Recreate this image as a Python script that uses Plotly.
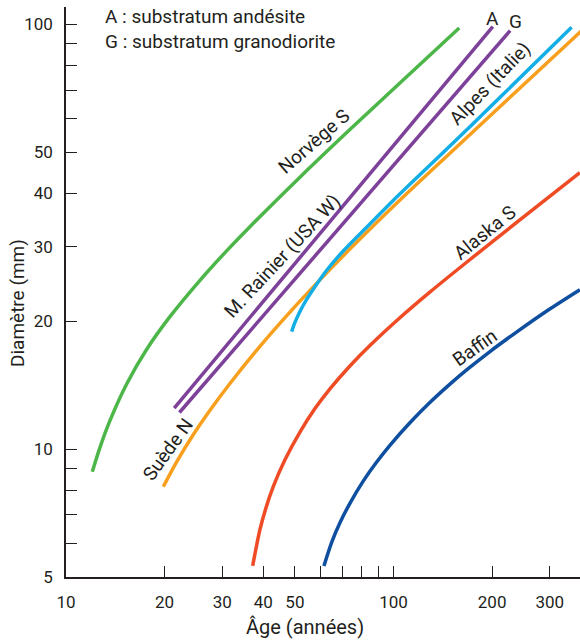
import numpy as np
import plotly.graph_objects as go

# ---- data (age in years, diameter in mm) ----
norvege_age = [12.03, 12.7, 13.62, 15.32, 17.64, 20.77, 25.65, 30.94, 36.45, 51.8, 73.6, 104.6, 158.7]
norvege_diam = [8.85, 10.1, 11.67, 14.24, 17.19, 20.51, 24.98, 29.31, 33.41, 43.7, 56.58, 72.83, 98.1]

rainierA_age = [21.4, 201]
rainierA_diam = [12.5, 98.8]

rainierG_age = [22.2, 227]
rainierG_diam = [12.2, 96.7]

suede_age = [19.82, 21.77, 24.24, 27.52, 31.67, 39.1, 48.29, 59.62, 74.5, 105.8, 148.7, 211.2, 349.8, 383.8]
suede_diam = [8.16, 9.335, 10.7, 12.35, 14.28, 17.47, 21.03, 25.04, 29.87, 38.92, 49.77, 64.04, 91.93, 98.33]

alpes_age = [48.86, 50.01, 51.8, 54.41, 57.56, 62.62, 70.23, 81.79, 99.79, 148.7, 211.2, 349.8]
alpes_diam = [18.91, 19.88, 21.1, 22.58, 24.13, 26.42, 29.29, 33.0, 38.52, 51.74, 67.31, 98.49]

alaska_age = [37.15, 39.1, 40.79, 42.93, 46.62, 51.8, 57.56, 63.96, 73.6, 84.72, 104.6, 129.1, 167.2, 243.1, 370.7]
alaska_diam = [5.31, 6.469, 7.274, 8.16, 9.441, 10.97, 12.46, 13.87, 15.7, 17.54, 20.39, 23.43, 27.55, 34.67, 44.82]

baffin_age = [61.31, 64.86, 68.62, 73.6, 80.82, 88.38, 97.5, 112.2, 129.1, 148.7, 167.2, 197.0, 237.5, 296.0, 370.7]
baffin_diam = [5.31, 6.06, 6.71, 7.457, 8.408, 9.275, 10.21, 11.54, 12.88, 14.23, 15.37, 16.98, 18.87, 21.24, 23.75]

x_tickvals = [10, 20, 30, 40, 50, 60, 70, 80, 90, 100, 200, 300]
x_ticktext = ["10", "20", "30", "40", "50", "", "", "", "", "100", "200", "300"]
y_tickvals = [5, 6, 7, 8, 9, 10, 20, 30, 40, 50, 60, 70, 80, 90, 100]
y_ticktext = ["5", "", "", "", "", "10", "20", "30", "40", "50", "", "", "", "", "100"]

# curve labels: text, age, diameter, angle
labels = [
    ("Norvège S", 57.2, 52.9, -41),
    ("M. Rainier (USA W)", 45.5, 28.5, -47),
    ("Suède N", 20.5, 9.96, -54),
    ("Alpes (Italie)", 197, 72.5, -46),
    ("Alaska S", 190, 32.4, -39),
    ("Baffin", 177, 17.4, -35),
    ("A", 200, 103.4, 0),
    ("G", 235, 101.5, 0),
]

FONT = "Roboto, Liberation Sans, sans-serif"
TXT = "#231f20"

fig = go.Figure()
series = [
    (norvege_age, norvege_diam, "#4cb748"),
    (suede_age, suede_diam, "#f8a01e"),
    (alpes_age, alpes_diam, "#14aee6"),
    (rainierA_age, rainierA_diam, "#7d4199"),
    (rainierG_age, rainierG_diam, "#7d4199"),
    (alaska_age, alaska_diam, "#ef4b24"),
    (baffin_age, baffin_diam, "#0f4fa0"),
]
for xs, ys, c in series:
    fig.add_trace(go.Scatter(x=xs, y=ys, mode="lines",
                             line=dict(color=c, width=3.5, shape="spline", smoothing=0.8),
                             showlegend=False, hoverinfo="skip"))

for t, a, d, ang in labels:
    fig.add_annotation(x=np.log10(a), y=np.log10(d), xref="x", yref="y", text=t,
                       textangle=ang, showarrow=False,
                       font=dict(family=FONT, size=19, color=TXT))

fig.add_annotation(x=0.072, y=0.984, xref="paper", yref="paper", xanchor="left", yanchor="middle",
                   text="A : substratum andésite", showarrow=False,
                   font=dict(family=FONT, size=19, color=TXT))
fig.add_annotation(x=0.072, y=0.940, xref="paper", yref="paper", xanchor="left", yanchor="middle",
                   text="G : substratum granodiorite", showarrow=False,
                   font=dict(family=FONT, size=19, color=TXT))
fig.add_annotation(x=0.465, y=-0.0877, xref="paper", yref="paper", xanchor="center", yanchor="middle",
                   text="Âge (années)", showarrow=False,
                   font=dict(family=FONT, size=20, color=TXT))
fig.add_annotation(x=-0.0953, y=0.4807, xref="paper", yref="paper", xanchor="center", yanchor="middle",
                   text="Diamètre (mm)", textangle=-90, showarrow=False,
                   font=dict(family=FONT, size=19, color=TXT))

fig.update_xaxes(type="log", range=[1, 2.5694], tickvals=x_tickvals, ticktext=x_ticktext,
                 ticks="inside", ticklen=11, tickwidth=1, tickcolor=TXT,
                 showline=True, linecolor=TXT, linewidth=1.5, showgrid=False, zeroline=False,
                 ticklabelstandoff=9,
                 tickfont=dict(family=FONT, size=17, color=TXT))
fig.update_yaxes(type="log", range=[np.log10(5), 2.0412], tickvals=y_tickvals, ticktext=y_ticktext,
                 ticks="inside", ticklen=11, tickwidth=1, tickcolor=TXT,
                 showline=True, linecolor=TXT, linewidth=1.5, showgrid=False, zeroline=False,
                 ticklabelstandoff=8,
                 tickfont=dict(family=FONT, size=17, color=TXT))

fig.update_layout(width=580, height=640, margin=dict(l=66, r=0, t=7, b=63),
                  plot_bgcolor="white", paper_bgcolor="white")

fig.write_html("out.html", config={"displayModeBar": False},
               post_script="document.body.style.margin='0';document.body.style.padding='0';")
